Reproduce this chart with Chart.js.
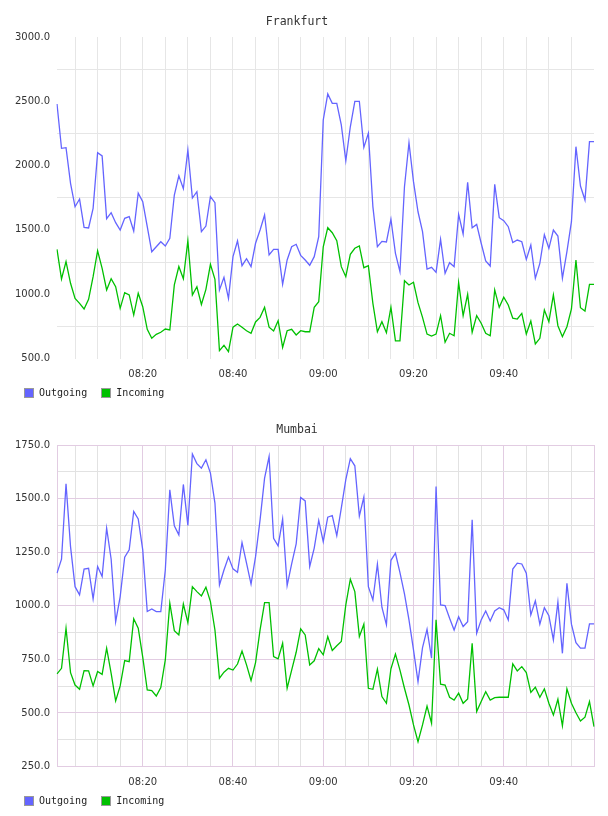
<!DOCTYPE html>
<html>
<head>
<meta charset="utf-8">
<title>Frankfurt / Mumbai traffic</title>
<script src="https://cdn.jsdelivr.net/npm/chart.js@4.4.1/dist/chart.umd.min.js"></script>
<style>
  body { margin: 0; background: #fff; }
  .panel { position: relative; width: 608px; height: 408px; }
  .legend { position: absolute; left: 24px; top: 388px; display: flex; font: 10px 'DejaVu Sans Mono', monospace; color: #222; line-height: 10px; }
  .legend .item { display: flex; align-items: center; margin-right: 14px; }
  .legend .box { width: 8px; height: 8px; border: 1px solid #999; margin-right: 5px; }
</style>
</head>
<body>
<div class="panel"><canvas id="frankfurt" width="608" height="408"></canvas><div class="legend" id="lg-frankfurt"></div></div>
<div class="panel"><canvas id="mumbai" width="608" height="408"></canvas><div class="legend" id="lg-mumbai"></div></div>
<script>
const times = [
  '08:01','08:02','08:03','08:04','08:05','08:06','08:07','08:08','08:09','08:10',
  '08:11','08:12','08:13','08:14','08:15','08:16','08:17','08:18','08:19','08:20',
  '08:21','08:22','08:23','08:24','08:25','08:26','08:27','08:28','08:29','08:30',
  '08:31','08:32','08:33','08:34','08:35','08:36','08:37','08:38','08:39','08:40',
  '08:41','08:42','08:43','08:44','08:45','08:46','08:47','08:48','08:49','08:50',
  '08:51','08:52','08:53','08:54','08:55','08:56','08:57','08:58','08:59','09:00',
  '09:01','09:02','09:03','09:04','09:05','09:06','09:07','09:08','09:09','09:10',
  '09:11','09:12','09:13','09:14','09:15','09:16','09:17','09:18','09:19','09:20',
  '09:21','09:22','09:23','09:24','09:25','09:26','09:27','09:28','09:29','09:30',
  '09:31','09:32','09:33','09:34','09:35','09:36','09:37','09:38','09:39','09:40',
  '09:41','09:42','09:43','09:44','09:45','09:46','09:47','09:48','09:49','09:50',
  '09:51','09:52','09:53','09:54','09:55','09:56','09:57','09:58','09:59','10:00'
];

const seriesNames = ['Outgoing', 'Incoming'];

const fraOut = [
  2479,2134,2139,1862,1680,1740,1520,1515,1668,2100,
  2075,1587,1634,1556,1499,1590,1603,1491,1785,1719,
  1525,1330,1369,1408,1375,1435,1771,1920,1820,2121,
  1748,1797,1486,1530,1758,1712,1033,1131,968,1292,
  1414,1222,1276,1214,1396,1499,1616,1305,1349,1349,
  1077,1266,1369,1388,1302,1266,1225,1292,1447,2355,
  2557,2484,2484,2316,2038,2302,2500,2500,2142,2251,
  1681,1369,1411,1406,1583,1318,1175,1836,2178,1875,
  1641,1486,1196,1209,1170,1427,1163,1245,1214,1621,
  1468,1870,1517,1543,1396,1258,1219,1855,1595,1572,
  1525,1401,1421,1408,1271,1383,1124,1240,1463,1357,
  1499,1452,1124,1331,1564,2147,1841,1732,2186,2186
];
const fraIn = [
  1349,1118,1253,1085,968,929,885,960,1136,1338,
  1201,1033,1121,1058,890,1012,994,838,1007,903,
  727,657,688,704,729,722,1072,1215,1120,1416,
  994,1058,920,1038,1232,1116,561,602,553,743,
  768,743,716,696,784,820,898,743,714,794,
  586,716,727,683,716,708,708,898,942,1369,
  1517,1478,1416,1214,1136,1310,1357,1375,1206,1222,
  929,708,786,700,899,637,637,1105,1072,1093,
  934,820,690,675,690,833,626,696,677,1090,
  833,999,704,833,774,696,677,1033,898,976,
  916,813,807,851,690,792,613,657,877,786,
  994,755,670,747,885,1266,895,869,1077,1077
];
const mumOut = [
  1152,1217,1569,1276,1089,1051,1171,1175,1032,1183,
  1136,1362,1217,925,1043,1227,1261,1440,1405,1261,
  973,985,973,973,1167,1541,1373,1331,1566,1375,
  1708,1663,1642,1681,1619,1479,1097,1167,1227,1172,
  1156,1295,1199,1101,1229,1401,1595,1696,1315,1279,
  1404,1094,1195,1289,1505,1489,1183,1269,1398,1299,
  1413,1421,1327,1455,1588,1686,1653,1419,1507,1089,
  1027,1194,993,911,1212,1245,1155,1055,934,794,
  646,805,890,755,1556,1004,1001,942,887,949,
  903,926,1401,872,934,976,929,976,991,981,
  934,1171,1199,1195,1152,957,1023,914,991,954,
  841,1017,778,1105,914,828,802,802,915,915
];
const mumIn = [
  682,708,895,688,630,610,697,696,626,693,
  680,802,685,556,626,744,739,939,895,760,
  607,604,579,618,747,1012,884,864,1008,921,
  1089,1066,1046,1087,1019,887,662,690,708,700,
  728,789,724,651,735,887,1015,1015,763,752,
  825,615,700,783,892,864,724,743,800,771,
  856,791,813,833,1004,1124,1066,856,914,615,
  610,704,576,545,706,775,700,615,537,444,
  366,444,532,452,934,634,630,573,560,592,
  545,565,825,506,553,599,560,571,573,573,
  573,729,696,716,688,596,620,573,612,545,
  490,564,440,612,545,501,462,480,553,436
];

const fraTicks = [500, 3000, 250, 500];   // min, max, grid step, label step
const mumTicks = [250, 1750, 125, 250];

const COLORS = ['#6464ff', '#00c000'];
const TICK_FONT = { family: 'DejaVu Sans', size: 10 };
const CLEAR = 'rgba(0,0,0,0)';

const minuteOf = t => parseInt(t.slice(3), 10);

function xGrid(i, look) {
  if (i === 0 || i === times.length - 1) return look.edge;
  const m = minuteOf(times[i]);
  if (m % 20 === 0) return look.majorX;
  if (m % 5 === 0) return look.minor;
  return CLEAR;
}

function makeChart(id, title, outVals, inVals, yt, look) {
  const [yMin, yMax, yStep, yLabel] = yt;
  const chart = new Chart(document.getElementById(id), {
    type: 'line',
    data: {
      labels: times,
      datasets: [outVals, inVals].map((d, k) => ({
        label: seriesNames[k],
        data: d,
        borderColor: COLORS[k],
        backgroundColor: COLORS[k],
        borderWidth: 1.3,
        pointRadius: 0,
        fill: false,
        tension: 0,
      })),
    },
    options: {
      responsive: false,
      animation: false,
      devicePixelRatio: 1,
      // x axis takes 2*padding + line height, so bottom padding puts the plot floor at ~358
      layout: { padding: { left: 0, right: 14, top: 0, bottom: 17.5 } },
      plugins: {
        legend: { display: false },
        tooltip: { enabled: false },
        title: {
          display: true,
          text: title,
          color: '#333',
          font: { family: 'DejaVu Sans Mono', size: 11.5, weight: 'normal' },
          padding: { top: 15.5, bottom: 7.7 },
        },
      },
      scales: {
        x: {
          grid: { drawTicks: false, color: c => xGrid(c.index, look) },
          border: { display: look.border, color: look.edge },
          ticks: {
            autoSkip: false, maxRotation: 0, minRotation: 0,
            padding: 10, color: '#333', font: TICK_FONT,
            callback: (v, i) => (i > 0 && i < times.length - 1 && minuteOf(times[i]) % 20 === 0) ? times[i] : '',
          },
        },
        y: {
          min: yMin, max: yMax,
          afterFit: s => { s.width = 57; },
          grid: { drawTicks: false, color: c => (c.tick.value % yLabel === 0) ? look.majorY : look.minor },
          border: { display: look.border, color: look.edge },
          ticks: {
            stepSize: yStep, padding: 7, color: '#333', font: TICK_FONT,
            callback: v => (v % yLabel === 0) ? v.toFixed(1) : '',
          },
        },
      },
    },
  });

  /* legend as html, built from the chart's own datasets */
  const lg = document.getElementById('lg-' + id);
  chart.data.datasets.forEach(ds => {
    const it = document.createElement('div');
    it.className = 'item';
    it.innerHTML = `<div class="box" style="background:${ds.borderColor}"></div><span>${ds.label}</span>`;
    lg.appendChild(it);
  });
  return chart;
}

makeChart('frankfurt', 'Frankfurt', fraOut, fraIn, fraTicks,
  { minor: '#e6e6e6', majorX: '#e6e6e6', majorY: CLEAR, edge: CLEAR, border: false });
makeChart('mumbai', 'Mumbai', mumOut, mumIn, mumTicks,
  { minor: '#e2e2e2', majorX: '#e2cce2', majorY: '#e2cce2', edge: '#e2cce2', border: true });
</script>
</body>
</html>
